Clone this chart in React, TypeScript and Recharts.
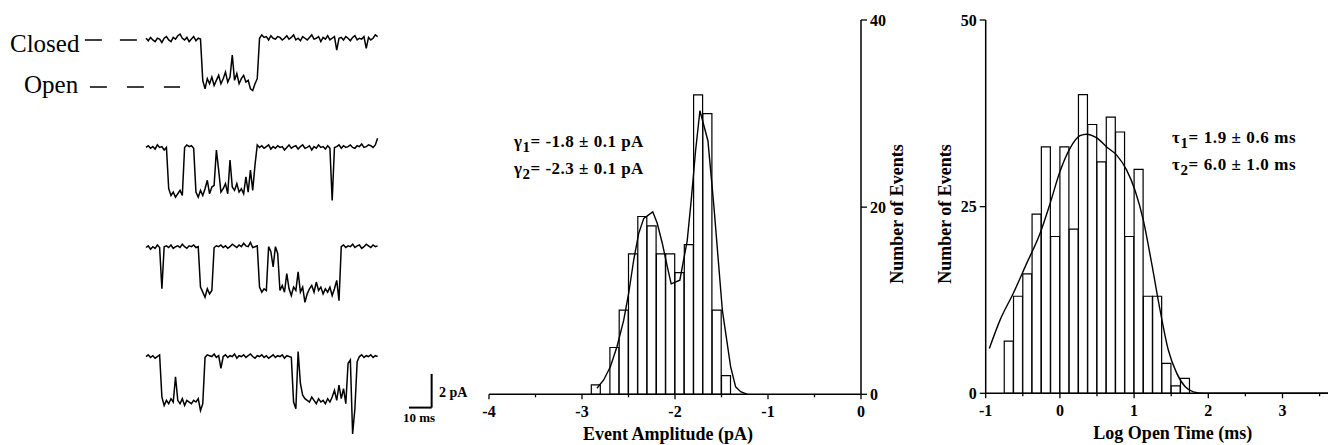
import React from 'react';
import { LineChart, Line, XAxis, YAxis, ComposedChart, Bar, ReferenceLine } from 'recharts';

// ---------- Single-channel current traces (pA), one sample per ms ----------
const TRACE_1 = [
  0.10, -0.05, 0.15, 0.00, -0.10, 0.10, 0.05, -0.15, 0.10, 0.20,
  0.00, -0.10, 0.15, 0.05, 0.25, 0.35, 0.10, 0.00, 0.15, -0.10,
  0.05, 0.20, -0.05, 0.10, 0.05, -2.40, -2.90, -2.30, -2.60, -2.20,
  -2.70, -2.40, -2.10, -2.60, -2.30, -1.90, -2.50, -2.20, -0.90, -2.40,
  -2.00, -2.60, -2.30, -2.10, -2.50, -2.40, -2.90, -3.00, -2.60, -2.30,
  0.10, 0.30, 0.15, 0.20, 0.00, 0.25, 0.10, 0.05, 0.20, 0.15,
  0.00, 0.10, 0.25, 0.05, 0.15, 0.30, 0.00, 0.10, -0.05, 0.20,
  0.10, 0.00, 0.15, 0.30, 0.05, 0.10, 0.20, -0.10, 0.15, 0.05,
  0.25, 0.00, 0.10, 0.20, -0.60, 0.10, 0.15, 0.00, 0.20, 0.10,
  -0.05, 0.15, 0.25, 0.00, 0.10, 0.05, 0.20, -0.50, 0.15, 0.00,
  0.10, 0.30, 0.20,
];
const TRACE_2 = [
  0.05, 0.15, 0.00, 0.10, -0.05, 0.20, 0.05, 0.10, -0.10, 0.05,
  -2.40, -2.80, -2.60, -2.90, -2.70, -2.50, -2.80, 0.05, 0.20, 0.10,
  0.15, 0.00, -2.60, -2.90, -2.50, -2.80, -2.40, -1.90, -2.70, -2.30,
  -2.20, -0.10, -1.30, -2.60, -2.40, -2.10, -2.70, -0.70, -2.30, -2.50,
  -2.10, -2.60, -2.40, -2.70, -1.70, -2.60, -1.30, -2.50, -1.00, 0.20,
  0.05, 0.15, 0.00, 0.10, 0.20, -0.05, 0.10, 0.00, 0.15, 0.05,
  0.10, -0.10, 0.05, 0.20, 0.00, 0.10, 0.15, -0.05, 0.10, 0.20,
  0.00, 0.05, 0.15, -0.10, 0.10, 0.00, 0.20, 0.05, 0.10, -0.05,
  0.15, 0.00, -3.10, 0.05, 0.10, 0.20, 0.00, 0.15, 0.05, 0.10,
  0.20, 0.05, 0.00, 0.15, 0.10, 0.25, 0.05, 0.10, 0.20, 0.15,
  0.05, 0.20, 0.60,
];
const TRACE_3 = [
  0.05, 0.15, -0.05, 0.10, 0.00, 0.20, 0.05, -2.40, 0.10, 0.15,
  0.05, 0.20, 0.00, 0.10, 0.15, 0.05, 0.25, 0.10, 0.00, 0.15,
  0.10, 0.20, 0.05, 0.10, -2.30, -2.60, -2.90, -2.40, -2.70, -2.50,
  0.05, 0.15, 0.10, 0.20, 0.05, 0.15, 0.00, 0.10, 0.25, 0.15,
  0.05, 0.20, 0.10, 0.30, 0.15, 0.10, 0.35, 0.05, 0.10, 0.15,
  -2.30, -2.60, -2.40, -2.50, 0.10, -0.20, -1.10, 0.10, -0.30, -2.50,
  -2.20, -2.60, -1.50, -2.40, -2.80, -2.30, -2.50, -1.40, -2.60, -2.30,
  -3.20, -2.70, -2.40, -2.20, -2.60, -2.00, -2.50, -2.30, -2.70, -2.40,
  -2.60, -2.30, -2.80, -2.40, -1.90, -3.10, 0.10, 0.20, 0.05, 0.15,
  0.10, 0.25, 0.05, 0.15, 0.20, 0.00, 0.10, 0.25, 0.15, 0.05,
  0.20, 0.10, 0.15,
];
const TRACE_4 = [
  0.10, 0.20, 0.05, 0.15, 0.00, 0.10, 0.20, -2.30, -2.80, -2.50,
  -2.70, -2.40, -2.60, -1.10, -2.50, -2.70, -2.40, -2.80, -2.50, -2.60,
  -2.70, -2.50, -2.60, -2.40, -3.10, -2.70, 0.05, 0.20, 0.15, 0.10,
  0.25, 0.05, 0.15, -0.60, 0.10, 0.20, 0.05, 0.15, 0.10, 0.25,
  0.00, 0.15, 0.10, 0.20, 0.05, 0.15, 0.25, 0.10, 0.00, 0.15,
  0.10, 0.20, 0.05, 0.15, 0.00, 0.10, 0.20, 0.05, 0.15, 0.10,
  0.20, 0.00, 0.15, 0.10, 0.05, -2.60, -3.00, 0.40, -1.50, -2.20,
  -2.40, -2.50, -2.60, -2.30, -2.50, -2.70, -2.40, -2.60, -2.50, -2.70,
  -2.40, -2.60, -2.30, -1.90, -2.50, -1.60, -2.40, -1.80, -2.70, -0.30,
  -0.10, -4.50, -3.00, -0.20, 0.10, 0.20, 0.05, 0.15, 0.10, 0.20,
  0.05, 0.15, 0.10,
];
const TRACES = [TRACE_1, TRACE_2, TRACE_3, TRACE_4];
// visible window of each trace's own current axis (pA): [bottom, top]
const TRACE_WINDOWS: [number, number][] = [
  [-24.04, 2.37],
  [-17.61, 8.80],
  [-11.67, 14.74],
  [-5.15, 21.26],
];
const TIME_WINDOW: [number, number] = [-64.3, 147.1]; // ms
const CLOSED_LEVEL = 0;
const OPEN_LEVEL = -2.8;
const SCALE_BAR_MS = 10;
const SCALE_BAR_PA = 2;
const SCALE_BAR_END_MS = 125.8;
const SCALE_BAR_BASE_PA = -2.93;

// ---------- Event amplitude histogram ----------
const AMP_BIN_START = -4;
const AMP_BIN_WIDTH = 0.1;
const AMP_COUNTS = [
  0, 0, 0, 0, 0, 0, 0, 0, 0, 0,
  0, 1, 0, 5, 9, 15, 19, 18, 15, 15,
  13, 16, 32, 30, 9, 2, 0, 0, 0, 0,
  0, 0, 0, 0, 0, 0, 0, 0, 0, 0,
];
const AMP_FIT_X = [-2.839, -2.767, -2.695, -2.624, -2.552, -2.498, -2.444, -2.39, -2.336, -2.239, -2.192, -2.138, -2.084, -2.041, -1.948, -1.869, -1.826, -1.779, -1.732, -1.646, -1.581, -1.491, -1.402, -1.348, -1.294, -1.222];
const AMP_FIT_Y = [0.64, 1.53, 2.95, 5.08, 7.9, 10.8, 14.35, 17.2, 18.8, 19.5, 18.3, 16.2, 13.7, 11.8, 12.2, 16.4, 20.7, 26.0, 30.3, 27.1, 20.0, 9.0, 2.95, 0.8, 0.28, 0];
const AMP_X_TICKS = [-4, -3.5, -3, -2.5, -2, -1.5, -1, -0.5, 0];
const AMP_Y_TICKS = [0, 20, 40];

// ---------- Log open time histogram ----------
const TIME_BIN_START = -1;
const TIME_BIN_WIDTH = 0.125;
const TIME_COUNTS = [
  0, 0, 7, 13, 16, 24, 33, 21, 33, 22,
  40, 36, 31, 37, 35, 21, 30, 13, 13, 4,
  1, 2, 0, 0, 0, 0, 0, 0, 0, 0,
  0, 0, 0, 0, 0, 0, 0, 0, 0, 0,
];
const TIME_FIT_X = [-0.951, -0.807, -0.628, -0.448, -0.268, -0.133, 0.001, 0.136, 0.271, 0.361, 0.496, 0.63, 0.765, 0.9, 1.012, 1.124, 1.237, 1.349, 1.461, 1.574, 1.686, 1.798, 1.933, 2.5, 3, 4];
const TIME_FIT_Y = [6.0, 9.8, 13.4, 17.4, 21.4, 25.4, 29.7, 32.8, 34.5, 34.7, 34.2, 33.0, 31.9, 29.9, 27.2, 23.2, 17.4, 11.2, 5.8, 2.7, 0.9, 0.2, 0, 0, 0, 0];
const TIME_X_TICKS = [-1, -0.5, 0, 0.5, 1, 1.5, 2, 2.5, 3, 3.5];
const TIME_Y_TICKS = [0, 25, 50];

const FONT = "'Liberation Serif', 'Times New Roman', serif";
const INK = '#000';

const ampData = AMP_COUNTS.map((c, i) => ({ bin: (AMP_BIN_START + i * AMP_BIN_WIDTH).toFixed(2), count: c }));
const ampFit = AMP_FIT_X.map((x, i) => ({ x, y: AMP_FIT_Y[i] }));
const timeData = TIME_COUNTS.map((c, i) => ({ bin: (TIME_BIN_START + i * TIME_BIN_WIDTH).toFixed(3), count: c }));
const timeFit = TIME_FIT_X.map((x, i) => ({ x, y: TIME_FIT_Y[i] }));
const traceData = TRACES.map((tr) => tr.map((v, t) => ({ t, i: v })));

const BottomTick = (props: any) => {
  const { x, y, payload } = props;
  const v = payload.value;
  const major = Math.abs(v - Math.round(v)) < 1e-6;
  return (
    <g>
      <line x1={x} x2={x} y1={y} y2={y + (major ? 5 : 3)} stroke={INK} strokeWidth={1.3} />
      {major && (
        <text x={x} y={y + 23} textAnchor="middle" fontFamily={FONT} fontWeight="bold" fontSize={16} fill={INK}>
          {String(v)}
        </text>
      )}
    </g>
  );
};

const RightTick = (props: any) => {
  const { x, y, payload } = props;
  return (
    <g>
      <line x1={x} x2={x + 6} y1={y} y2={y} stroke={INK} strokeWidth={1.3} />
      <text x={x + 9} y={y + 5.5} textAnchor="start" fontFamily={FONT} fontWeight="bold" fontSize={16} fill={INK}>
        {String(payload.value)}
      </text>
    </g>
  );
};

const LeftTick = (props: any) => {
  const { x, y, payload } = props;
  return (
    <g>
      <line x1={x - 6} x2={x} y1={y} y2={y} stroke={INK} strokeWidth={1.3} />
      <text x={x - 9} y={y + 5.5} textAnchor="end" fontFamily={FONT} fontWeight="bold" fontSize={16} fill={INK}>
        {String(payload.value)}
      </text>
    </g>
  );
};

const axisLine = { stroke: INK, strokeWidth: 1.5 };
const layer: React.CSSProperties = { position: 'absolute', left: 0, top: 0 };

function TraceChart({ k }: { k: number }) {
  return (
    <div style={layer}>
      <LineChart width={480} height={445} data={traceData[k]} margin={{ top: 0, right: 0, bottom: 0, left: 0 }}>
        <XAxis type="number" dataKey="t" domain={TIME_WINDOW} hide allowDataOverflow height={0} />
        <YAxis type="number" domain={TRACE_WINDOWS[k]} hide allowDataOverflow width={0} />
        <Line
          dataKey="i"
          type="linear"
          stroke={INK}
          strokeWidth={1.5}
          dot={false}
          activeDot={false}
          isAnimationActive={false}
        />
        {k === 0 && (
          <ReferenceLine
            segment={[{ x: -26.9, y: CLOSED_LEVEL }, { x: -4.0, y: CLOSED_LEVEL }]}
            stroke={INK}
            strokeWidth={1.5}
            strokeDasharray="17 18"
            ifOverflow="visible"
          />
        )}
        {k === 0 && (
          <ReferenceLine
            segment={[{ x: -24.7, y: OPEN_LEVEL }, { x: 15.0, y: OPEN_LEVEL }]}
            stroke={INK}
            strokeWidth={1.5}
            strokeDasharray="17 20"
            ifOverflow="visible"
          />
        )}
        {k === 3 && (
          <ReferenceLine
            segment={[{ x: SCALE_BAR_END_MS - SCALE_BAR_MS, y: SCALE_BAR_BASE_PA }, { x: SCALE_BAR_END_MS, y: SCALE_BAR_BASE_PA }]}
            stroke={INK}
            strokeWidth={2}
            ifOverflow="visible"
          />
        )}
        {k === 3 && (
          <ReferenceLine
            segment={[{ x: SCALE_BAR_END_MS, y: SCALE_BAR_BASE_PA }, { x: SCALE_BAR_END_MS, y: SCALE_BAR_BASE_PA + SCALE_BAR_PA }]}
            stroke={INK}
            strokeWidth={2}
            ifOverflow="visible"
          />
        )}
      </LineChart>
    </div>
  );
}

export default function App() {
  return (
    <div style={{ position: 'absolute', left: 0, top: 0, width: 1328, height: 445, overflow: 'hidden', background: '#fff' }}>
      {/* current traces */}
      {TRACES.map((_, k) => (
        <TraceChart key={k} k={k} />
      ))}

      {/* amplitude histogram */}
      <div style={{ position: 'absolute', left: 440, top: 0 }}>
        <ComposedChart
          width={480}
          height={445}
          data={ampData}
          margin={{ top: 20, right: 19, bottom: 20.7, left: 49 }}
          barCategoryGap={0}
          barGap={0}
        >
          <XAxis xAxisId="cat" dataKey="bin" type="category" hide height={0} />
          <XAxis
            xAxisId="num"
            dataKey="x"
            type="number"
            domain={[-4, 0]}
            ticks={AMP_X_TICKS}
            interval={0}
            allowDataOverflow
            height={30}
            axisLine={axisLine}
            tickLine={false}
            tickSize={0}
            tickMargin={0}
            tick={<BottomTick />}
          />
          <YAxis
            orientation="right"
            type="number"
            domain={[0, 40]}
            ticks={AMP_Y_TICKS}
            interval={0}
            width={40}
            axisLine={axisLine}
            tickLine={false}
            tickSize={0}
            tickMargin={0}
            tick={<RightTick />}
          />
          <Bar xAxisId="cat" dataKey="count" fill="#fff" stroke={INK} strokeWidth={1.2} isAnimationActive={false} />
          <Line
            xAxisId="num"
            data={ampFit}
            dataKey="y"
            type="linear"
            stroke={INK}
            strokeWidth={1.4}
            dot={false}
            activeDot={false}
            isAnimationActive={false}
          />
        </ComposedChart>
      </div>

      {/* open time histogram */}
      <div style={{ position: 'absolute', left: 920, top: 0 }}>
        <ComposedChart
          width={500}
          height={445}
          data={timeData}
          margin={{ top: 20, right: 63.3, bottom: 21.7, left: 20.7 }}
          barCategoryGap={0}
          barGap={0}
        >
          <XAxis xAxisId="cat" dataKey="bin" type="category" hide height={0} />
          <XAxis
            xAxisId="num"
            dataKey="x"
            type="number"
            domain={[-1, 4]}
            ticks={TIME_X_TICKS}
            interval={0}
            allowDataOverflow
            height={30}
            axisLine={axisLine}
            tickLine={false}
            tickSize={0}
            tickMargin={0}
            tick={<BottomTick />}
          />
          <YAxis
            orientation="left"
            type="number"
            domain={[0, 50]}
            ticks={TIME_Y_TICKS}
            interval={0}
            width={45}
            axisLine={axisLine}
            tickLine={false}
            tickSize={0}
            tickMargin={0}
            tick={<LeftTick />}
          />
          <Bar xAxisId="cat" dataKey="count" fill="#fff" stroke={INK} strokeWidth={1.2} isAnimationActive={false} />
          <Line
            xAxisId="num"
            data={timeFit}
            dataKey="y"
            type="monotone"
            stroke={INK}
            strokeWidth={1.4}
            dot={false}
            activeDot={false}
            isAnimationActive={false}
          />
        </ComposedChart>
      </div>

      {/* text annotations */}
      <svg width={1328} height={445} style={{ position: 'absolute', left: 0, top: 0, pointerEvents: 'none' }}>
        <g fontFamily={FONT} fill={INK}>
          <text x={10} y={52} fontSize={25}>Closed</text>
          <text x={24} y={92.5} fontSize={25}>Open</text>
        </g>
        <g fontFamily={FONT} fontWeight="bold" fill={INK}>
          <text x={439} y={396.5} fontSize={14}>2 pA</text>
          <text x={403} y={421.5} fontSize={13}>10 ms</text>

          <text x={514} y={147} fontSize={17} letterSpacing={0.5}>
            <tspan>γ</tspan>
            <tspan dy={5} fontSize={15}>1</tspan>
            <tspan dy={-5}>= -1.8 ± 0.1 pA</tspan>
          </text>
          <text x={514} y={174} fontSize={17} letterSpacing={0.5}>
            <tspan>γ</tspan>
            <tspan dy={5} fontSize={15}>2</tspan>
            <tspan dy={-5}>= -2.3 ± 0.1 pA</tspan>
          </text>

          <text x={1172} y={143.3} fontSize={17} letterSpacing={0.6}>
            <tspan>τ</tspan>
            <tspan dy={5} fontSize={15}>1</tspan>
            <tspan dy={-5}>= 1.9 ± 0.6 ms</tspan>
          </text>
          <text x={1172} y={170} fontSize={17} letterSpacing={0.6}>
            <tspan>τ</tspan>
            <tspan dy={5} fontSize={15}>2</tspan>
            <tspan dy={-5}>= 6.0 ± 1.0 ms</tspan>
          </text>

          <text x={668} y={440} fontSize={18} textAnchor="middle">Event Amplitude (pA)</text>
          <text x={1172.8} y={439} fontSize={18} textAnchor="middle">Log Open Time (ms)</text>
          <text x={903} y={214} fontSize={18} textAnchor="middle" transform="rotate(-90 903 214)">Number of Events</text>
          <text x={950.7} y={214} fontSize={18} textAnchor="middle" transform="rotate(-90 950.7 214)">Number of Events</text>
        </g>
      </svg>
    </div>
  );
}
